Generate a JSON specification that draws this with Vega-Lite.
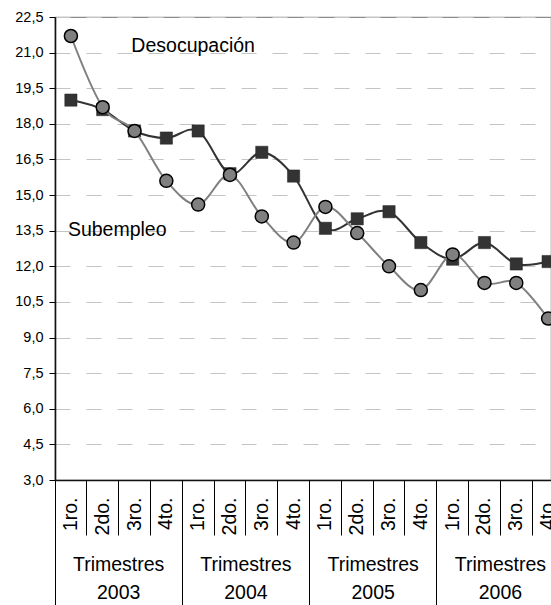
{
  "$schema": "https://vega.github.io/schema/vega-lite/v6.json",
  "width": 496,
  "height": 463,
  "autosize": {"type": "none"},
  "padding": {"left": 55, "top": 17, "right": 0, "bottom": 125},
  "background": "white",
  "config": {
    "font": "Liberation Sans",
    "view": {"stroke": "#8c8c8c", "strokeWidth": 1.2}
  },
  "data": {
    "values": [
      {"t": "2003-1", "year": "2003", "k": "d", "v": 21.7}, {"t": "2003-1", "year": "2003", "k": "s", "v": 19.0},
      {"t": "2003-2", "year": "2003", "k": "d", "v": 18.7}, {"t": "2003-2", "year": "2003", "k": "s", "v": 18.6},
      {"t": "2003-3", "year": "2003", "k": "d", "v": 17.7}, {"t": "2003-3", "year": "2003", "k": "s", "v": 17.7},
      {"t": "2003-4", "year": "2003", "k": "d", "v": 15.6}, {"t": "2003-4", "year": "2003", "k": "s", "v": 17.4},
      {"t": "2004-1", "year": "2004", "k": "d", "v": 14.6}, {"t": "2004-1", "year": "2004", "k": "s", "v": 17.7},
      {"t": "2004-2", "year": "2004", "k": "d", "v": 15.85}, {"t": "2004-2", "year": "2004", "k": "s", "v": 15.9},
      {"t": "2004-3", "year": "2004", "k": "d", "v": 14.1}, {"t": "2004-3", "year": "2004", "k": "s", "v": 16.8},
      {"t": "2004-4", "year": "2004", "k": "d", "v": 13.0}, {"t": "2004-4", "year": "2004", "k": "s", "v": 15.8},
      {"t": "2005-1", "year": "2005", "k": "d", "v": 14.5}, {"t": "2005-1", "year": "2005", "k": "s", "v": 13.6},
      {"t": "2005-2", "year": "2005", "k": "d", "v": 13.4}, {"t": "2005-2", "year": "2005", "k": "s", "v": 14.0},
      {"t": "2005-3", "year": "2005", "k": "d", "v": 12.0}, {"t": "2005-3", "year": "2005", "k": "s", "v": 14.3},
      {"t": "2005-4", "year": "2005", "k": "d", "v": 11.0}, {"t": "2005-4", "year": "2005", "k": "s", "v": 13.0},
      {"t": "2006-1", "year": "2006", "k": "d", "v": 12.5}, {"t": "2006-1", "year": "2006", "k": "s", "v": 12.3},
      {"t": "2006-2", "year": "2006", "k": "d", "v": 11.3}, {"t": "2006-2", "year": "2006", "k": "s", "v": 13.0},
      {"t": "2006-3", "year": "2006", "k": "d", "v": 11.3}, {"t": "2006-3", "year": "2006", "k": "s", "v": 12.1},
      {"t": "2006-4", "year": "2006", "k": "d", "v": 9.8}, {"t": "2006-4", "year": "2006", "k": "s", "v": 12.2}
    ]
  },
  "resolve": {"scale": {"x": "independent"}, "axis": {"x": "independent"}},
  "layer": [
    {
      "encoding": {
        "x": {
          "field": "t",
          "type": "ordinal",
          "scale": {"type": "band", "range": [0, 509], "paddingInner": 0, "paddingOuter": 0},
          "axis": {
            "title": null,
            "labelExpr": "['1ro.','2do.','3ro.','4to.'][toNumber(substring(datum.value,5,6))-1]",
            "labelAngle": 270,
            "labelFontSize": 19.5,
            "labelColor": "#000",
            "labelPadding": -38,
            "labelOverlap": false,
            "labelBound": false,
            "tickSize": 55,
            "tickColor": "#000",
            "tickWidth": 1,
            "bandPosition": 0,
            "domainColor": "#111",
            "domainWidth": 1.6,
            "grid": false
          }
        },
        "y": {
          "field": "v",
          "type": "quantitative",
          "scale": {"domain": [3, 22.5], "nice": false, "zero": false},
          "axis": {
            "title": null,
            "values": [3, 4.5, 6, 7.5, 9, 10.5, 12, 13.5, 15, 16.5, 18, 19.5, 21, 22.5],
            "labelExpr": "replace(format(datum.value,'.1f'),'.',',')",
            "labelFontSize": 14.5,
            "labelColor": "#000",
            "labelPadding": 6,
            "labelOverlap": false,
            "labelBound": false,
            "labelFlush": false,
            "tickSize": 6,
            "tickColor": "#000",
            "domainColor": "#111",
            "domainWidth": 1.6,
            "gridColor": "#c4c4c4",
            "gridDash": [15, 16],
            "gridWidth": 1.2
          }
        }
      },
      "layer": [
        {
          "transform": [{"filter": "datum.k === 's'"}],
          "mark": {"type": "line", "interpolate": "cardinal", "tension": 0, "color": "#333333", "strokeWidth": 2}
        },
        {
          "transform": [{"filter": "datum.k === 's'"}],
          "mark": {"type": "point", "shape": "square", "filled": true, "fill": "#333333", "stroke": "#222222", "strokeWidth": 0.5, "size": 150, "opacity": 1}
        },
        {
          "transform": [{"filter": "datum.k === 'd'"}],
          "mark": {"type": "line", "interpolate": "cardinal", "tension": 0, "color": "#808080", "strokeWidth": 2}
        },
        {
          "transform": [{"filter": "datum.k === 'd'"}],
          "mark": {"type": "point", "shape": "circle", "filled": true, "fill": "#808080", "stroke": "#000000", "strokeWidth": 1.5, "size": 170, "opacity": 1}
        },
        {
          "data": {"values": [{"t": "2004-1", "v": 21.28, "label": "Desocupación"}]},
          "mark": {"type": "text", "align": "center", "baseline": "middle", "fontSize": 19.5, "color": "#000", "dx": -5},
          "encoding": {
            "x": {"field": "t", "type": "ordinal", "bandPosition": 0.5},
            "text": {"field": "label"}
          }
        },
        {
          "data": {"values": [{"t": "2003-1", "v": 13.53, "label": "Subempleo"}]},
          "mark": {"type": "text", "align": "left", "baseline": "middle", "fontSize": 19.5, "color": "#000", "dx": -3},
          "encoding": {
            "x": {"field": "t", "type": "ordinal", "bandPosition": 0.5},
            "text": {"field": "label"}
          }
        }
      ]
    },
    {
      "mark": {"type": "rule", "opacity": 0},
      "encoding": {
        "x": {
          "field": "year",
          "type": "ordinal",
          "scale": {"type": "band", "range": [0, 509], "paddingInner": 0, "paddingOuter": 0},
          "axis": {
            "title": null,
            "orient": "bottom",
            "domain": false,
            "grid": false,
            "ticks": true,
            "bandPosition": 0,
            "tickSize": 125,
            "tickColor": "#000",
            "tickWidth": 1,
            "labelExpr": "['Trimestres', datum.value]",
            "labelFontSize": 19.5,
            "labelLineHeight": 28,
            "labelBaseline": "top",
            "labelPadding": -50,
            "labelColor": "#000",
            "labelAngle": 0
          }
        }
      }
    }
  ]
}
